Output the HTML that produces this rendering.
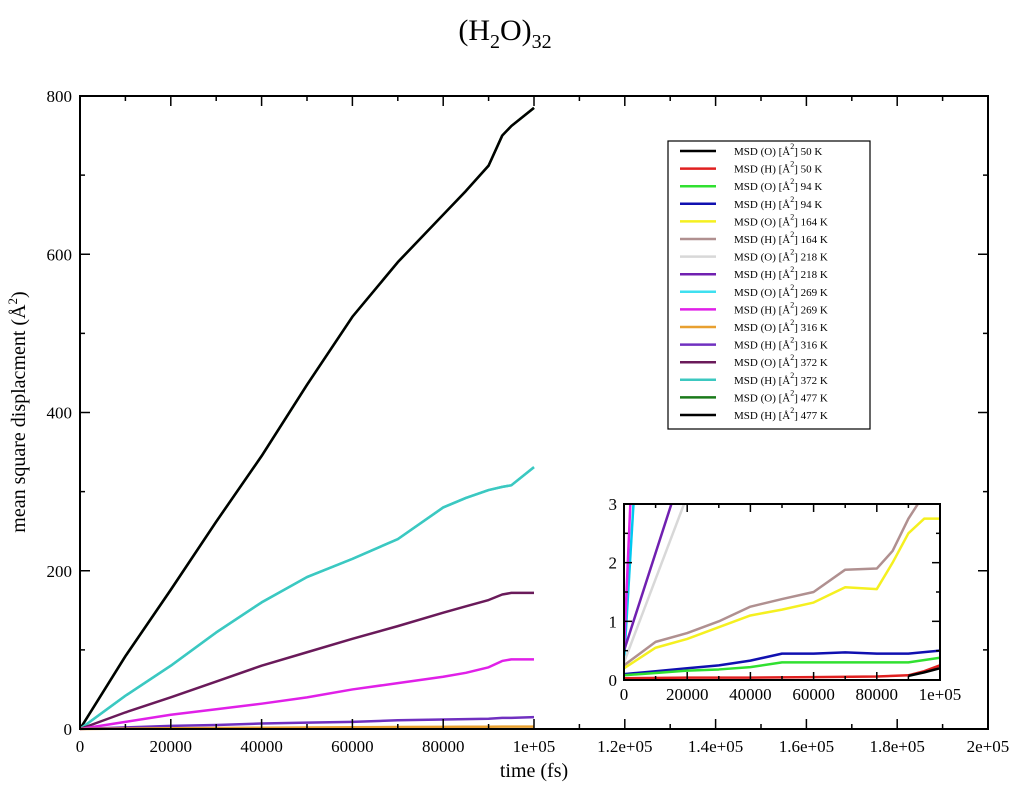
<!DOCTYPE html>
<html><head><meta charset="utf-8"><style>
body{margin:0;background:#fff;width:1011px;height:785px;overflow:hidden}
svg text{font-family:"Liberation Serif",serif}
</style></head><body>
<svg id="c" width="1011" height="785" xmlns="http://www.w3.org/2000/svg"></svg>
<script>
const xKeys=[0,10000,20000,30000,40000,50000,60000,70000,80000,85000,90000,93000,95000,100000];
const mainSeries=[
 {name:"MSD (O) 477 K",color:"#1a7a1a",vals:[0,92,176,262,345,435,521,590,650,680,712,750,762,785]},
 {name:"MSD (H) 477 K",color:"#000000",vals:[0,92,176,262,345,435,521,590,650,680,712,750,762,785]},
 {name:"MSD (O) 269 K",color:"#3fe0f0",vals:[0,42,80,122,160,192,215,240,280,292,302,306,308,331]},
 {name:"MSD (H) 372 K",color:"#3cc8c0",vals:[0,42,80,122,160,192,215,240,280,292,302,306,308,331]},
 {name:"MSD (O) 372 K",color:"#6a1a5a",vals:[0,21,40,60,80,97,114,130,147,155,163,170,172,172]},
 {name:"MSD (H) 269 K",color:"#e020e8",vals:[0,9,18,25,32,40,50,58,66,71,78,86,88,88]},
 {name:"MSD (H) 316 K",color:"#7030c0",vals:[0,2,4,5,7,8,9,11,12,12.5,13,14,14,15]},
 {name:"MSD (O) 316 K",color:"#e8a030",vals:[0,0.5,1,1.3,1.6,1.9,2.2,2.5,2.7,2.8,2.9,3,3,3]}
];
const mainXTicks=[0,20000,40000,60000,80000,100000,120000,140000,160000,180000,200000];
const mainXLabels=["0","20000","40000","60000","80000","1e+05","1.2e+05","1.4e+05","1.6e+05","1.8e+05","2e+05"];
const mainYTicks=[0,200,400,600,800];
const insetSeries=[
 {color:"#00c8f0",x:[0,3000],y:[0.3,3]},
 {color:"#e020e8",x:[0,2000],y:[0.5,3]},
 {color:"#d8d8d8",x:[0,19000],y:[0.3,3]},
 {color:"#7020b0",x:[0,15000],y:[0.5,3]},
 {color:"#b09090",x:[0,10000,20000,30000,40000,50000,60000,70000,80000,85000,90000,93000],y:[0.25,0.65,0.8,1.0,1.25,1.38,1.5,1.88,1.9,2.2,2.75,3]},
 {color:"#f5f020",x:[0,10000,20000,30000,40000,50000,60000,70000,80000,85000,90000,95000,100000],y:[0.2,0.55,0.7,0.9,1.1,1.2,1.32,1.58,1.55,2.0,2.5,2.75,2.75]},
 {color:"#1010b0",x:[0,10000,20000,30000,40000,50000,60000,70000,80000,90000,100000],y:[0.1,0.15,0.2,0.25,0.33,0.45,0.45,0.47,0.45,0.45,0.5]},
 {color:"#30e030",x:[0,10000,20000,30000,40000,50000,60000,70000,80000,90000,100000],y:[0.08,0.12,0.16,0.18,0.22,0.3,0.3,0.3,0.3,0.3,0.38]},
 {color:"#e02020",x:[0,20000,40000,60000,80000,90000,95000,100000],y:[0.03,0.04,0.04,0.05,0.06,0.08,0.15,0.25]},
 {color:"#000000",x:[90000,95000,100000],y:[0.07,0.13,0.2]}
];
const insetXTicks=[0,20000,40000,60000,80000,100000];
const insetXLabels=["0","20000","40000","60000","80000","1e+05"];
const insetYTicks=[0,1,2,3];
const legendNames=["(O)","(H)","(O)","(H)","(O)","(H)","(O)","(H)","(O)","(H)","(O)","(H)","(O)","(H)","(O)","(H)"];
const legendTemps=["50 K","50 K","94 K","94 K","164 K","164 K","218 K","218 K","269 K","269 K","316 K","316 K","372 K","372 K","477 K","477 K"];
const legendColors=["#000","#e02020","#30e030","#1010b0","#f5f020","#b09090","#d8d8d8","#7020b0","#3fe0f0","#e020e8","#e8a030","#7030c0","#6a1a5a","#3cc8c0","#1a7a1a","#000"];

const S=document.getElementById('c');const NS="http://www.w3.org/2000/svg";
function mk(t,a,p){const e=document.createElementNS(NS,t);for(const k in a)e.setAttribute(k,a[k]);(p||S).appendChild(e);return e;}
const X0=80,X1=988,Y0=729,Y1=96;
const mx=v=>X0+(v/200000)*(X1-X0), my=v=>Y0-(v/800)*(Y0-Y1);
const t=mk('text',{x:505,y:40,'font-size':30,'text-anchor':'middle'});

t.innerHTML='(H<tspan dy="8" font-size="20">2</tspan><tspan dy="-8">O)</tspan><tspan dy="8" font-size="20">32</tspan>';
const g=mk('g',{});
mainSeries.forEach(s=>{const pl=mk('polyline',{points:xKeys.map((x,i)=>mx(x)+','+my(s.vals[i])).join(' '),fill:'none',stroke:s.color,'stroke-width':2.5,'stroke-linejoin':'round'},g);
});
const fr=mk('rect',{x:X0,y:Y1,width:X1-X0,height:Y0-Y1,fill:'none',stroke:'#000','stroke-width':2},g);

for(let v=0;v<=200000;v+=10000){const maj=v%20000==0,L=maj?10:5;
 mk('line',{x1:mx(v),x2:mx(v),y1:Y0,y2:Y0-L,stroke:'#000','stroke-width':1.5},g);
 mk('line',{x1:mx(v),x2:mx(v),y1:Y1,y2:Y1+L,stroke:'#000','stroke-width':1.5},g);}
for(let v=0;v<=800;v+=100){const maj=v%200==0,L=maj?10:5;
 mk('line',{x1:X0,x2:X0+L,y1:my(v),y2:my(v),stroke:'#000','stroke-width':1.5},g);
 mk('line',{x1:X1,x2:X1-L,y1:my(v),y2:my(v),stroke:'#000','stroke-width':1.5},g);}
mainXTicks.forEach((v,i)=>{const e=mk('text',{x:mx(v),y:752,'font-size':17,'text-anchor':'middle'},g);e.textContent=mainXLabels[i];
});
mainYTicks.forEach(v=>{const e=mk('text',{x:72,y:my(v)+6,'font-size':17,'text-anchor':'end'},g);e.textContent=v;
});
const xt=mk('text',{x:534,y:777,'font-size':20,'text-anchor':'middle'});xt.textContent='time (fs)';

const yt=mk('text',{transform:'translate(25,412) rotate(-90)','font-size':20,'text-anchor':'middle'});
yt.innerHTML='mean square displacment (Å<tspan dy="-8" font-size="13">2</tspan><tspan dy="8">)</tspan>';

const lg=mk('g',{});
mk('rect',{x:668,y:141,width:202,height:288,fill:'#fff',stroke:'#000','stroke-width':1.2},lg);
legendColors.forEach((c,i)=>{const y=151+i*17.6;
 const en=mk('g',{},lg);
 mk('line',{x1:680,x2:716,y1:y,y2:y,stroke:c,'stroke-width':2.5},en);
 const tx=mk('text',{x:734,y:y+4,'font-size':11},en);
 tx.innerHTML='MSD '+legendNames[i]+' [Å<tspan dy="-6" font-size="8">2</tspan><tspan dy="6">] '+legendTemps[i]+'</tspan>';});
const IX0=624,IX1=940,IY0=680,IY1=504;
const ix=v=>IX0+(v/100000)*(IX1-IX0), iy=v=>IY0-(v/3)*(IY0-IY1);
const ig=mk('g',{});
mk('rect',{x:IX0,y:IY1,width:IX1-IX0,height:IY0-IY1,fill:'#fff'},ig);
const cp=mk('clipPath',{id:'ic'},ig);
mk('rect',{x:IX0,y:IY1,width:IX1-IX0,height:IY0-IY1},cp);
const il=mk('g',{'clip-path':'url(#ic)'},ig);
insetSeries.forEach(s=>{const pl=mk('polyline',{points:s.x.map((x,i)=>ix(x)+','+iy(s.y[i])).join(' '),fill:'none',stroke:s.color,'stroke-width':2.5,'stroke-linejoin':'round'},il);
});
mk('rect',{x:IX0,y:IY1,width:IX1-IX0,height:IY0-IY1,fill:'none',stroke:'#000','stroke-width':2},ig);
for(let v=0;v<=100000;v+=10000){const L=v%20000==0?8:4;
 mk('line',{x1:ix(v),x2:ix(v),y1:IY0,y2:IY0-L,stroke:'#000','stroke-width':1.5},ig);
 mk('line',{x1:ix(v),x2:ix(v),y1:IY1,y2:IY1+L,stroke:'#000','stroke-width':1.5},ig);}
for(let v=0;v<=3;v+=0.5){const L=(v%1==0)?8:4;
 mk('line',{x1:IX0,x2:IX0+L,y1:iy(v),y2:iy(v),stroke:'#000','stroke-width':1.5},ig);
 mk('line',{x1:IX1,x2:IX1-L,y1:iy(v),y2:iy(v),stroke:'#000','stroke-width':1.5},ig);}
insetXTicks.forEach((v,i)=>{const e=mk('text',{x:ix(v),y:700,'font-size':17,'text-anchor':'middle'},ig);e.textContent=insetXLabels[i];
});
insetYTicks.forEach(v=>{const e=mk('text',{x:617,y:iy(v)+6,'font-size':17,'text-anchor':'end'},ig);e.textContent=v;
});
</script>
</body></html>
